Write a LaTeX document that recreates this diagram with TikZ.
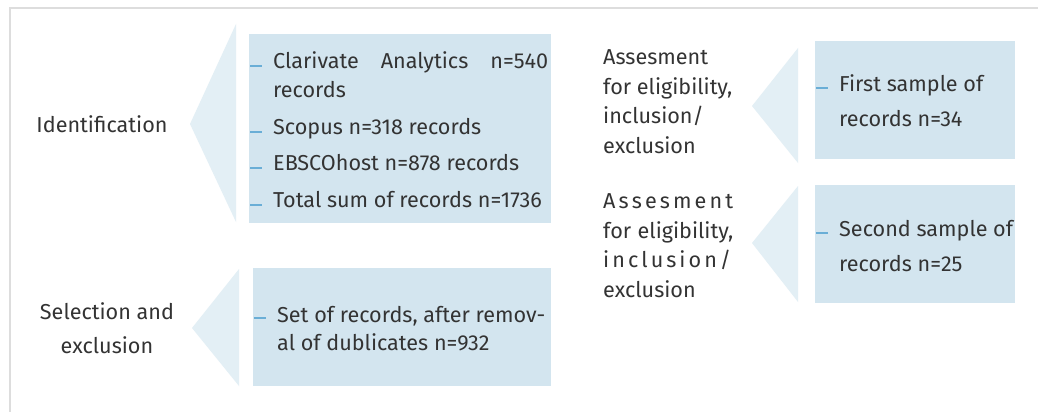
\documentclass[tikz,border=0pt]{standalone}
\usepackage{fontspec}
\setmainfont{Fira Sans}
\definecolor{boxc}{HTML}{D3E5EF}
\definecolor{tric}{HTML}{E3EFF5}
\definecolor{txtc}{HTML}{333333}
\definecolor{bulc}{HTML}{6AAED6}
\definecolor{framec}{HTML}{DDDDDD}
\begin{document}
\begin{tikzpicture}[x=1pt,y=-1pt,
  boxfill/.style={fill=boxc,draw=none},
  trifill/.style={fill=tric,draw=none},
  txt/.style={inner sep=0pt,anchor=base west,text=txtc,font=\fontsize{21.6}{26}\selectfont},
  ctxt/.style={inner sep=0pt,anchor=base,text=txtc,font=\fontsize{21.6}{26}\selectfont},
  bul/.style={draw=bulc,line width=2pt}]
\useasboundingbox (0,0) rectangle (1038,412);
\fill[white] (0,0) rectangle (1038,412);
\draw[framec,line width=1.5pt] (1038,8) -- (10,8) -- (10,412);
% triangles
\fill[trifill] (190,124) -- (236,24) -- (236,222) -- cycle;
\fill[trifill] (192,328) -- (239,269) -- (239,386) -- cycle;
\fill[trifill] (752,106) -- (798,48) -- (798,163) -- cycle;
\fill[trifill] (752,243) -- (798,186) -- (798,302) -- cycle;
% boxes
\fill[boxfill] (249,34) rectangle (551,223);
\fill[boxfill] (253,268) rectangle (551,386);
\fill[boxfill] (815,41) rectangle (1015,159);
\fill[boxfill] (815,185) rectangle (1015,303);
% left labels
\node[ctxt] (ident) at (102,132) {Identification};
\node[ctxt] (sel1) at (107,319) {Selection and};
\node[ctxt] (sel2) at (107,353) {exclusion};
% box 1
\draw[bul] (250,66) -- (262,66);
\node[txt] (b1a) at (273,68) {\makebox[275pt][s]{Clarivate Analytics n=540}};
\node[txt] (b1b) at (273,97) {records};
\draw[bul] (250,132) -- (262,132);
\node[txt] (b1c) at (273,134) {Scopus n=318 records};
\draw[bul] (250,168) -- (262,168);
\node[txt] (b1d) at (273,170) {EBSCOhost n=878 records};
\draw[bul] (250,205) -- (262,205);
\node[txt] (b1e) at (273,207) {Total sum of records n=1736};
% box 2
\draw[bul] (254,318) -- (266,318);
\node[txt] (b2a) at (277,322) {Set of records, after remov-};
\node[txt] (b2b) at (277,350) {al of dublicates n=932};
% assessment 1
\node[txt] (as1a) at (603,65) {Assesment};
\node[txt] (as1b) at (603,94) {for eligibility,};
\node[txt] (as1c) at (603,123) {inclusion/};
\node[txt] (as1d) at (603,153) {exclusion};
% assessment 2
\node[txt] (as2a) at (603,208) {\makebox[130pt][s]{A\hfill s\hfill s\hfill e\hfill s\hfill m\hfill e\hfill n\hfill t}};
\node[txt] (as2b) at (603,238) {\makebox[130pt][s]{for eligibility,}};
\node[txt] (as2c) at (603,267) {\makebox[128pt][s]{i\hfill n\hfill c\hfill l\hfill u\hfill s\hfill i\hfill o\hfill n\hfill /}};
\node[txt] (as2d) at (603,297) {exclusion};
% box 3
\draw[bul] (816,88) -- (828,88);
\node[txt] (b3a) at (839,92) {First sample of};
\node[txt] (b3b) at (839,126) {records n=34};
% box 4
\draw[bul] (816,233) -- (828,233);
\node[txt] (b4a) at (839,236) {Second sample of};
\node[txt] (b4b) at (839,271) {records n=25};
\end{tikzpicture}
\end{document}
